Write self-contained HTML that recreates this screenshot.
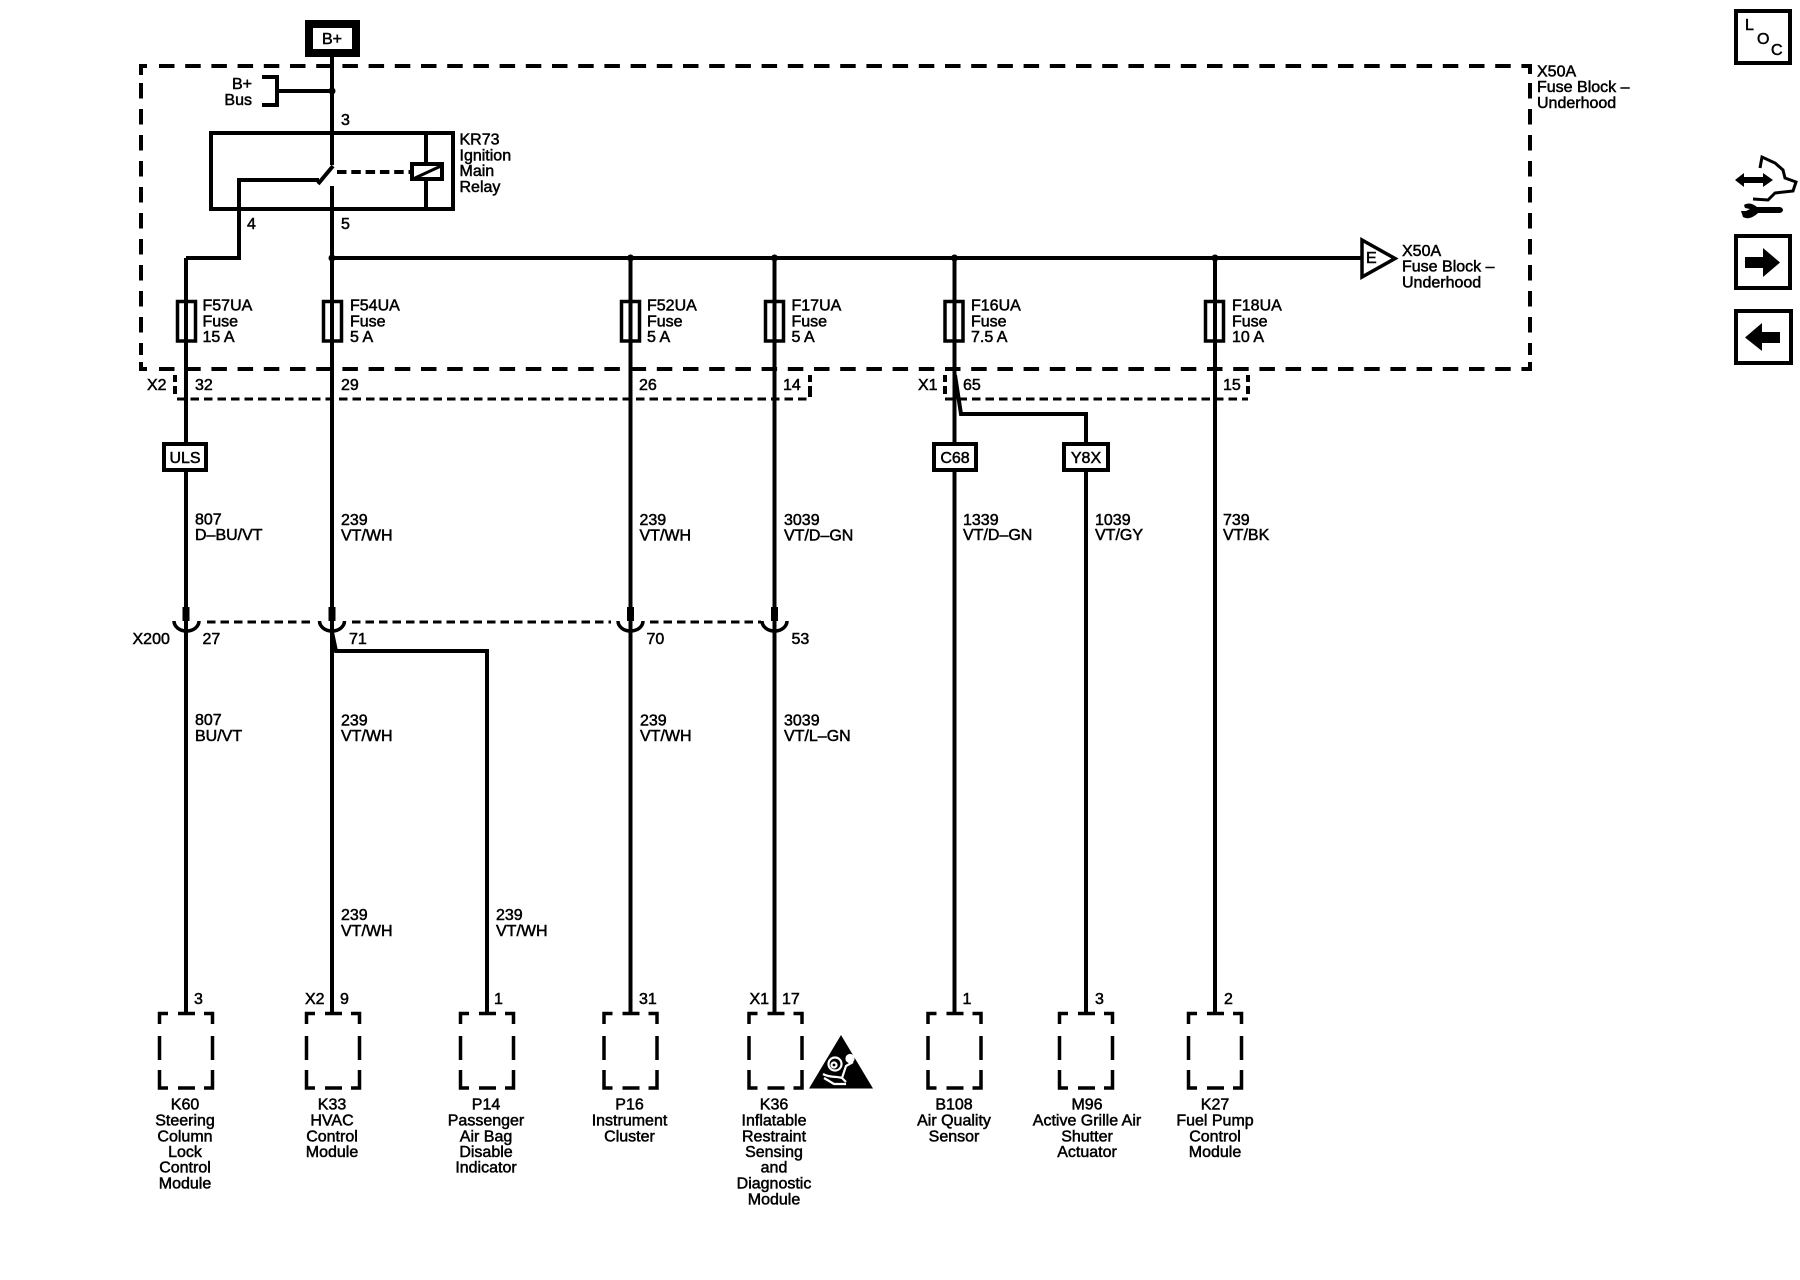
<!DOCTYPE html>
<html><head><meta charset="utf-8"><style>
html,body{margin:0;padding:0;background:#fff}
svg{display:block}
text{font-family:"Liberation Sans",sans-serif;font-size:16px;fill:#000;stroke:#000;stroke-width:.5px}
.m{text-anchor:middle}
.e{text-anchor:end}
</style></head><body>
<svg width="1800" height="1280" viewBox="0 0 1800 1280" xmlns="http://www.w3.org/2000/svg">
<rect width="1800" height="1280" fill="#fff"/>
<g fill="none" stroke="#000" stroke-width="4">
<!-- fuse block dashed -->
<path d="M159 66H1524M159 369H1524" stroke-dasharray="15.5 10.7"/>
<path d="M141 83V355M1530 83V355" stroke-dasharray="15.5 10.5"/>
<path d="M141 75V66H147M141 362V369H147M1522 66H1530V74M1522 369H1530V362"/>
<!-- wires -->
<path d="M332 57V165M333 166L318 184M239 209V180H319M332 186V1012M186 258H239V209M186 258V1012M332 258H1362"/>
<path d="M630.500 258V1012M774.500 258V1012M954.500 258V1012M1215 258V1012"/>
<path d="M955 375L961 414H1086V1012"/>
<path d="M332 632L336 651H487V1012"/>
<path d="M332 91H279M262 77H277V105H262"/>
<!-- relay -->
<rect x="211" y="133" width="242" height="76"/>
<path d="M426 133V163M426 180V209"/>
<rect x="412" y="164" width="30" height="15" />
<path d="M415 178L441 166" stroke-width="3"/>
<path d="M337 172H411" stroke-dasharray="9.500 4.800"/>
<!-- fuses -->
<rect x="177.500" y="301.500" width="18" height="39.500" stroke-width="3.500"/>
<rect x="323.500" y="301.500" width="18" height="39.500" stroke-width="3.500"/>
<rect x="621.500" y="301.500" width="18" height="39.500" stroke-width="3.500"/>
<rect x="765.500" y="301.500" width="18" height="39.500" stroke-width="3.500"/>
<rect x="945" y="301.500" width="18" height="39.500" stroke-width="3.500"/>
<rect x="1205.500" y="301.500" width="18" height="39.500" stroke-width="3.500"/>
<!-- thin dashed connectors -->
<g stroke-width="3">
<path d="M177 399H810" stroke-dasharray="8.500 5"/>
<path d="M945 399H1248" stroke-dasharray="8.500 5"/>
<path d="M175 375V382M175 386V394M810 375V382M810 386V397M945 375V382M945 386V394M1248 375V382M1248 386V394" stroke-width="4"/>
<path d="M207 622H313" stroke-dasharray="8.500 5"/>
<path d="M352 622H611" stroke-dasharray="8.500 5"/>
<path d="M650 622H761" stroke-dasharray="8.500 5"/>
</g>
<!-- cups -->
<g stroke-width="3.500">
<path d="M174 621A12.500 10 0 0 0 199 621"/>
<path d="M319.500 621A12.500 10 0 0 0 344.500 621"/>
<path d="M618 621A12.500 10 0 0 0 643 621"/>
<path d="M762 621A12.500 10 0 0 0 787 621"/>
</g>
<!-- plugs -->
<g stroke-width="7">
<path d="M186 607V621M332 607V621M630.500 607V621M774.500 607V621"/>
</g>
<!-- module boxes -->
<g stroke-width="3.500">
<path d="M159.500 1024V1013.500H168M204 1013.500H212.500V1024M159.500 1036V1060M212.500 1036V1060M159.500 1070V1088H168M212.500 1070V1088H204M178 1088H195M178 1013.500H195"/>
<path d="M306.500 1024V1013.500H315M351 1013.500H359.500V1024M306.500 1036V1060M359.500 1036V1060M306.500 1070V1088H315M359.500 1070V1088H351M325 1088H342M325 1013.500H342"/>
<path d="M460.500 1024V1013.500H469M505 1013.500H513.500V1024M460.500 1036V1060M513.500 1036V1060M460.500 1070V1088H469M513.500 1070V1088H505M479 1088H496M479 1013.500H496"/>
<path d="M604 1024V1013.500H612.500M648.500 1013.500H657V1024M604 1036V1060M657 1036V1060M604 1070V1088H612.500M657 1070V1088H648.500M622.500 1088H639.500M622.500 1013.500H639.500"/>
<path d="M749 1024V1013.500H757.500M793.500 1013.500H802V1024M749 1036V1060M802 1036V1060M749 1070V1088H757.500M802 1070V1088H793.500M767.500 1088H784.500M767.500 1013.500H784.500"/>
<path transform="translate(-1 0)" d="M929 1024V1013.500H937.500M973.500 1013.500H982V1024M929 1036V1060M982 1036V1060M929 1070V1088H937.500M982 1070V1088H973.500M947.500 1088H964.500M947.500 1013.500H964.500"/>
<path transform="translate(-0.500 0)" d="M1060 1024V1013.500H1068.500M1104.500 1013.500H1113V1024M1060 1036V1060M1113 1036V1060M1060 1070V1088H1068.500M1113 1070V1088H1104.500M1078.500 1088H1095.500M1078.500 1013.500H1095.500"/>
<path transform="translate(-1.500 0)" d="M1190 1024V1013.500H1198.500M1234.500 1013.500H1243V1024M1190 1036V1060M1243 1036V1060M1190 1070V1088H1198.500M1243 1070V1088H1234.500M1208.500 1088H1225.500M1208.500 1013.500H1225.500"/>
</g>
</g>
<!-- junction dots -->
<g fill="#000">
<circle cx="332" cy="91" r="3.500"/><circle cx="332" cy="258" r="3.500"/><circle cx="630.500" cy="258" r="3.500"/><circle cx="774.500" cy="258" r="3.500"/><circle cx="954.500" cy="258" r="3.500"/><circle cx="1215" cy="258" r="3.500"/>
</g>
<!-- boxes with white fill -->
<g fill="#fff" stroke="#000">
<rect x="309" y="24" width="47" height="29" stroke-width="8"/>
<rect x="164" y="444" width="42" height="26" stroke-width="4"/>
<rect x="934" y="444" width="42" height="26" stroke-width="4"/>
<rect x="1064" y="444" width="44" height="26" stroke-width="4"/>
<polygon points="1362,240 1395,258.500 1362,277" stroke-width="3.500"/>
<rect x="1736" y="11" width="54" height="52" stroke-width="4"/>
<rect x="1736" y="236" width="54" height="52" stroke-width="4"/>
<rect x="1736" y="311" width="55" height="52" stroke-width="4"/>
</g>
<!-- side icons -->
<g fill="#000">
<path d="M1745 257H1763V248L1780 262.500L1763 277V268H1745Z"/>
<path d="M1780 332H1762V323L1745 337.500L1762 351V343H1780Z"/>
<path d="M1735 180L1744 173V177H1763V173L1773 180L1763 187V183H1744V187Z"/>
<path d="M1744 205C1749 202 1753 204 1757 207H1780C1784 208 1784 212 1780 213H1758C1754 217 1748 220 1743 217L1741 211L1746 211L1750 209L1745 208Z"/>
<path d="M841 1035L873 1088.500H809Z"/>
</g>
<path d="M1760 168L1762 157L1775 163L1783 170L1785 178L1796 182L1793 191L1775 193L1768 200L1753 199" fill="none" stroke="#000" stroke-width="3"/>
<!-- airbag symbol detail -->
<g fill="none" stroke="#fff" stroke-width="2.200">
<circle cx="835" cy="1064" r="6.500"/><circle cx="834" cy="1065" r="2.500"/>
<circle cx="850" cy="1058.500" r="3.500" fill="#fff"/>
<path d="M823 1074C830 1078 836 1076 842 1078L846 1066L853 1062M842 1078L846 1082M824 1078L834 1084H846"/>
</g>
<!-- labels -->
<text x="322" y="44">B+</text>
<text x="252" y="89" class="e">B+</text><text x="252" y="105" class="e">Bus</text>
<text x="341" y="125">3</text><text x="247" y="229">4</text><text x="341" y="229">5</text>
<text x="459.500" y="144.500">KR73</text><text x="459.500" y="160.300">Ignition</text><text x="459.500" y="176">Main</text><text x="459.500" y="192">Relay</text>
<text x="1537" y="76.500">X50A</text><text x="1537" y="92">Fuse Block –</text><text x="1537" y="108">Underhood</text>
<text x="1402" y="256">X50A</text><text x="1402" y="271.700">Fuse Block –</text><text x="1402" y="287.500">Underhood</text>
<text x="1366" y="263">E</text>
<text x="202.500" y="310.700">F57UA</text><text x="202.500" y="326.500">Fuse</text><text x="202.500" y="342">15 A</text>
<text x="350" y="310.700">F54UA</text><text x="350" y="326.500">Fuse</text><text x="350" y="342">5 A</text>
<text x="647" y="310.700">F52UA</text><text x="647" y="326.500">Fuse</text><text x="647" y="342">5 A</text>
<text x="791.500" y="310.700">F17UA</text><text x="791.500" y="326.500">Fuse</text><text x="791.500" y="342">5 A</text>
<text x="971" y="310.700">F16UA</text><text x="971" y="326.500">Fuse</text><text x="971" y="342">7.5 A</text>
<text x="1232" y="310.700">F18UA</text><text x="1232" y="326.500">Fuse</text><text x="1232" y="342">10 A</text>
<text x="147" y="390">X2</text><text x="195" y="390">32</text><text x="341" y="390">29</text><text x="639" y="390">26</text><text x="783" y="390">14</text>
<text x="918" y="390">X1</text><text x="963" y="390">65</text><text x="1223" y="390">15</text>
<text x="185" y="463" class="m">ULS</text><text x="955" y="463" class="m">C68</text><text x="1086" y="463" class="m">Y8X</text>
<text x="195" y="524.500">807</text><text x="195" y="540">D–BU/VT</text>
<text x="341" y="525">239</text><text x="341" y="540.500">VT/WH</text>
<text x="639.500" y="525">239</text><text x="639.500" y="540.500">VT/WH</text>
<text x="784" y="525">3039</text><text x="784" y="540.500">VT/D–GN</text>
<text x="963" y="525">1339</text><text x="963" y="540">VT/D–GN</text>
<text x="1095" y="525">1039</text><text x="1095" y="540">VT/GY</text>
<text x="1223" y="525">739</text><text x="1223" y="540">VT/BK</text>
<text x="132.500" y="644">X200</text><text x="202.500" y="644">27</text><text x="349" y="644">71</text><text x="646.500" y="644">70</text><text x="791.500" y="644">53</text>
<text x="195" y="725">807</text><text x="195" y="741">BU/VT</text>
<text x="341" y="725.500">239</text><text x="341" y="741">VT/WH</text>
<text x="640" y="725.500">239</text><text x="640" y="741">VT/WH</text>
<text x="784" y="725.500">3039</text><text x="784" y="741">VT/L–GN</text>
<text x="341" y="920">239</text><text x="341" y="936">VT/WH</text>
<text x="496" y="920">239</text><text x="496" y="936">VT/WH</text>
<text x="194" y="1004">3</text><text x="305" y="1004">X2</text><text x="340" y="1004">9</text><text x="494" y="1004">1</text><text x="639" y="1004">31</text><text x="749.500" y="1004">X1</text><text x="782" y="1004">17</text><text x="962.500" y="1004">1</text><text x="1095" y="1004">3</text><text x="1224" y="1004">2</text>
<g class="m" text-anchor="middle">
<text x="185" y="1109.500">K60</text><text x="185" y="1125.500">Steering</text><text x="185" y="1141.500">Column</text><text x="185" y="1157">Lock</text><text x="185" y="1172.500">Control</text><text x="185" y="1188.500">Module</text>
<text x="332" y="1109.500">K33</text><text x="332" y="1125.500">HVAC</text><text x="332" y="1141.500">Control</text><text x="332" y="1157">Module</text>
<text x="486" y="1109.500">P14</text><text x="486" y="1125.500">Passenger</text><text x="486" y="1141.500">Air Bag</text><text x="486" y="1157">Disable</text><text x="486" y="1172.500">Indicator</text>
<text x="629.500" y="1109.500">P16</text><text x="629.500" y="1125.500">Instrument</text><text x="629.500" y="1141.500">Cluster</text>
<text x="774" y="1109.500">K36</text><text x="774" y="1125.500">Inflatable</text><text x="774" y="1141.500">Restraint</text><text x="774" y="1157">Sensing</text><text x="774" y="1172.500">and</text><text x="774" y="1188.500">Diagnostic</text><text x="774" y="1204.500">Module</text>
<text x="954" y="1109.500">B108</text><text x="954" y="1125.500">Air Quality</text><text x="954" y="1141.500">Sensor</text>
<text x="1087" y="1109.500">M96</text><text x="1087" y="1125.500">Active Grille Air</text><text x="1087" y="1141.500">Shutter</text><text x="1087" y="1157">Actuator</text>
<text x="1215" y="1109.500">K27</text><text x="1215" y="1125.500">Fuel Pump</text><text x="1215" y="1141.500">Control</text><text x="1215" y="1157">Module</text>
</g>
<text x="1745" y="30" style="font-size:16px">L</text><text x="1757" y="44" style="font-size:16px">O</text><text x="1771" y="55" style="font-size:16px">C</text>
</svg>
</body></html>
